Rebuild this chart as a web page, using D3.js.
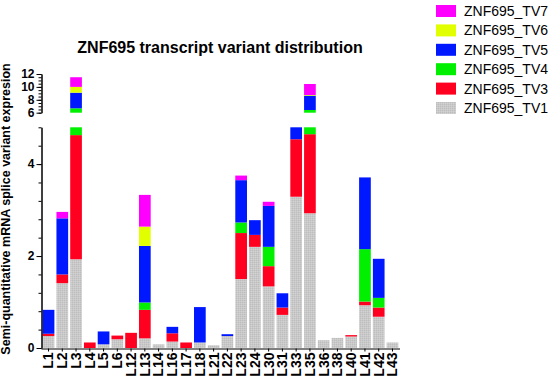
<!DOCTYPE html>
<html>
<head>
<meta charset="utf-8">
<script src="https://cdn.jsdelivr.net/npm/d3@7"></script>
<style>
  body { margin: 0; background: #fff; }
  svg { font-family: Arial, "Liberation Sans", Helvetica, sans-serif; }
  .axis path, .axis line { stroke: #000; stroke-width: 1; }
  .axis text { font-weight: bold; fill: #000; }
</style>
</head>
<body>
<svg id="chart" width="550" height="381"></svg>
<script>
// sample labels
var categories = ["L1","L2","L3","L4","L5","L6","L12","L13","L14","L16","L17","L18","L21",
                  "L22","L23","L24","L30","L31","L33","L35","L36","L38","L40","L41","L42","L43"];

// variant values
var tv1 = [0.26,1.41,1.93,0,0.08,0.19,0,0.21,0.08,0.14,0,0.12,0.06,0.26,1.50,2.20,1.34,0.72,3.29,2.93,0.17,0.22,0.25,0.93,0.68,0.12];
var tv3 = [0.05,0.19,2.70,0.12,0,0.08,0.33,0.62,0,0.18,0.12,0,0,0,1.00,0.26,0.44,0.16,1.25,1.72,0,0,0.03,0.08,0.20,0];
var tv4 = [0,0,2.05,0,0,0,0,0.16,0,0,0,0,0,0,0.23,0,0.42,0,0,1.77,0,0,0,1.14,0.21,0];
var tv5 = [0.52,1.22,2.42,0,0.28,0,0,1.23,0,0.14,0,0.77,0,0.04,0.92,0.32,0.89,0.31,0.26,2.22,0,0,0,1.56,0.85,0];
var tv6 = [0,0,0.90,0,0,0,0,0.42,0,0,0,0,0,0,0,0,0,0,0,0.10,0,0,0,0,0,0];
var tv7 = [0,0.14,1.50,0,0,0,0,0.69,0,0,0,0,0,0,0.10,0,0.09,0,0,1.71,0,0,0,0,0,0];

var seriesNames = ["ZNF695_TV1","ZNF695_TV3","ZNF695_TV4","ZNF695_TV5","ZNF695_TV6","ZNF695_TV7"];
var seriesColors = ["url(#greyfill)","#ff0020","#00f000","#0018ff","#e2ff00","#ff00ff"];

var lowTicks = [0, 2, 4];
var highTicks = [6, 8, 10, 12];

var rows = categories.map(function (c, i) {
    return {cat: c, ZNF695_TV1: tv1[i], ZNF695_TV3: tv3[i], ZNF695_TV4: tv4[i],
            ZNF695_TV5: tv5[i], ZNF695_TV6: tv6[i], ZNF695_TV7: tv7[i]};
});

var svg = d3.select("#chart");

// grey texture like the original
var pat = svg.append("defs").append("pattern")
    .attr("id", "greyfill").attr("width", 2).attr("height", 2)
    .attr("patternUnits", "userSpaceOnUse");
pat.append("rect").attr("width", 2).attr("height", 2).attr("fill", "#c9c9c9");
pat.append("rect").attr("width", 1).attr("height", 1).attr("fill", "#bdbdbd");
pat.append("rect").attr("x", 1).attr("y", 1).attr("width", 1).attr("height", 1).attr("fill", "#d2d2d2");

var x = d3.scaleBand().domain(categories).range([42, 399]).paddingInner(0.15).paddingOuter(0.05);
var yLow = d3.scaleLinear().domain([0, 4.8]).range([348, 127.3]);
var yHigh = d3.scaleLinear().domain([6, 12]).range([112.7, 74]);

var stack = d3.stack().keys(seriesNames);
var layers = stack(rows);

var g = svg.append("g");
layers.forEach(function (layer, k) {
    layer.forEach(function (d) {
        var y0 = d[0], y1 = d[1];
        if (y1 - y0 <= 0) return;
        var cx = x(d.data.cat);
        // lower segment 0..4.8
        var a = Math.max(y0, 0), b = Math.min(y1, 4.8);
        if (b > a) {
            g.append("rect")
                .attr("x", cx).attr("width", x.bandwidth())
                .attr("y", yLow(b)).attr("height", yLow(a) - yLow(b))
                .attr("fill", seriesColors[k]);
        }
        // upper segment 6..12
        a = Math.max(y0, 6); b = Math.min(y1, 12);
        if (b > a) {
            g.append("rect")
                .attr("x", cx).attr("width", x.bandwidth())
                .attr("y", yHigh(b)).attr("height", yHigh(a) - yHigh(b))
                .attr("fill", seriesColors[k]);
        }
    });
});

var fmt = d3.format("d");

// y axis, lower part
svg.append("g").attr("class", "axis").attr("transform", "translate(41.5,0)")
    .call(d3.axisLeft(yLow).tickValues(d3.range(0, 4.81, 0.4)).tickSize(3).tickSizeOuter(0).tickFormat(""));
svg.append("g").attr("class", "axis").attr("transform", "translate(41.5,0)")
    .call(d3.axisLeft(yLow).tickValues(lowTicks).tickSize(5).tickSizeOuter(0).tickPadding(2).tickFormat(fmt))
    .selectAll("text").style("font-size", "12px");

// y axis, upper part
svg.append("g").attr("class", "axis").attr("transform", "translate(41.5,0)")
    .call(d3.axisLeft(yHigh).tickValues(d3.range(6, 12.01, 0.5)).tickSize(3).tickSizeOuter(0).tickFormat(""));
svg.append("g").attr("class", "axis").attr("transform", "translate(41.5,0)")
    .call(d3.axisLeft(yHigh).tickValues(highTicks).tickSize(5).tickSizeOuter(0).tickPadding(2).tickFormat(fmt))
    .selectAll("text").style("font-size", "12px");

// x axis
var xa = svg.append("g").attr("class", "axis").attr("transform", "translate(0,348.5)")
    .call(d3.axisBottom(x).tickSize(3).tickSizeOuter(0));
xa.select(".domain").attr("d", "M41.5,0.5H400");
xa.selectAll("text")
    .style("font-size", "14px")
    .attr("text-anchor", "end")
    .attr("transform", "rotate(-90)")
    .attr("x", -4).attr("y", 0).attr("dy", "0.35em");

// title
svg.append("text").attr("x", 220).attr("y", 53)
    .attr("text-anchor", "middle").style("font-size", "16px").style("font-weight", "bold")
    .text("ZNF695 transcript variant distribution");

// y label
svg.append("text").attr("transform", "translate(10,209) rotate(-90)")
    .attr("text-anchor", "middle").style("font-size", "12.5px").style("font-weight", "bold")
    .text("Semi-quantitative mRNA splice variant expresion");

// legend, top is TV7
var legendOrder = seriesNames.slice().reverse();
var legendColors = seriesColors.slice().reverse();
var lg = svg.append("g");
legendOrder.forEach(function (name, i) {
    var yy = 11 + i * 19.4;
    lg.append("rect").attr("x", 436).attr("y", yy - 6).attr("width", 20).attr("height", 12)
        .attr("fill", legendColors[i]);
    lg.append("text").attr("x", 464).attr("y", yy).attr("dy", "0.36em")
        .style("font-size", "14px").text(name);
});
</script>
</body>
</html>
